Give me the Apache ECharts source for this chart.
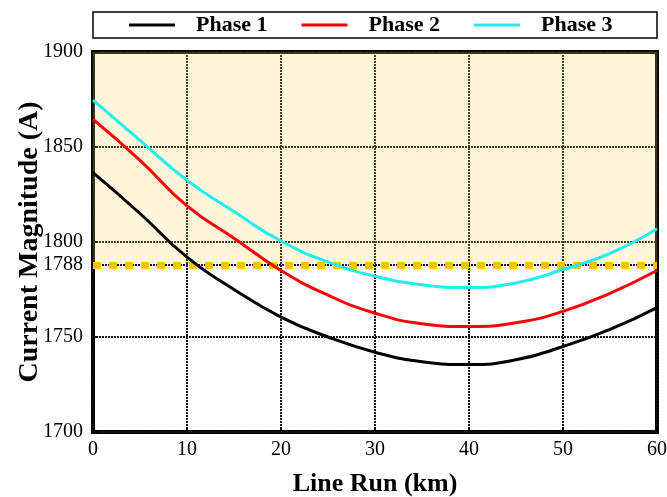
<!DOCTYPE html>
<html><head><meta charset="utf-8">
<script src="https://cdn.jsdelivr.net/npm/echarts@6/dist/echarts.min.js"></script>
<style>html,body{margin:0;padding:0;background:#fff}#c{width:667px;height:497px}</style>
</head><body><div id="c"></div>
<script>
const xValues = [0,5,10,15,20,25,30,35,40,45,50,55,60];
const phase1 = [1836.5,1815,1792,1775,1760.5,1750,1742,1737,1735.5,1738,1745,1754,1765.5];
const phase2 = [1864.5,1843,1819,1802,1785,1772,1762.5,1757,1755.5,1757.5,1763.5,1773,1785];
const phase3 = [1874.7,1853.5,1832.5,1816,1800.5,1789.5,1782,1777.5,1776,1778.5,1785.5,1794,1807];
const seriesNames = ['Phase 1','Phase 2','Phase 3'];
const threshold = 1788;
const yMin = 1700, yMax = 1900;

const pair = arr => xValues.map((x,i)=>[x,arr[i]]);
const font = '"Liberation Serif","Times New Roman",serif';
const chart = echarts.init(document.getElementById('c'));
const lineSeries = (name, data, color) => ({
  name, type:'line', data: pair(data), smooth:true, showSymbol:false, symbol:'none',
  lineStyle:{color, width:3}, itemStyle:{color}, z:5
});
chart.setOption({
  animation:false,
  grid:{left:93,right:10,top:52,bottom:65,show:true,borderColor:'#000',borderWidth:4,backgroundColor:'#fff',outerBoundsMode:'none',containLabel:false},
  graphic:[{type:'rect',shape:{x:93,y:12,width:564,height:26},style:{fill:'none',stroke:'#000',lineWidth:1.5}}],
  legend:{
    left:129, top:14, padding:0, itemWidth:46, itemHeight:3, itemGap:34, icon:'rect',
    textStyle:{fontFamily:font,fontWeight:'bold',fontSize:22,color:'#000',padding:[0,0,0,16]},
    data:seriesNames
  },
  xAxis:{
    type:'value', min:0, max:60, interval:10,
    name:'Line Run (km)', nameLocation:'middle', nameGap:39, nameMoveOverlap:false,
    nameTextStyle:{fontFamily:font,fontWeight:'bold',fontSize:26,color:'#000'},
    axisLine:{show:false},
    axisTick:{show:true,inside:true,length:5,lineStyle:{color:'#000',width:2}},
    axisLabel:{fontFamily:font,fontSize:20,color:'#000',margin:8,formatter:v=>String(v)},
    splitLine:{show:true,lineStyle:{color:'#111',width:2,type:[2,1]}}
  },
  yAxis:{
    type:'value', min:yMin, max:yMax, interval:50,
    name:'Current Magnitude (A)', nameLocation:'middle', nameGap:49, nameMoveOverlap:false,
    nameTextStyle:{fontFamily:font,fontWeight:'bold',fontSize:28,color:'#000'},
    axisLine:{show:false},
    axisTick:{show:true,inside:true,length:5,lineStyle:{color:'#000',width:2}},
    axisLabel:{fontFamily:font,fontSize:20,color:'#000',margin:10,formatter:v=>String(v)},
    splitLine:{show:true,lineStyle:{color:'#111',width:2,type:[2,1]}}
  },
  series:[
    {
      name:'_zone', type:'line', data:[], z:3, silent:true,
      markArea:{silent:true,itemStyle:{color:'rgba(255,215,95,0.22)'},data:[[{yAxis:threshold},{yAxis:yMax}]]},
      markLine:{silent:true,symbol:'none',animation:false,data:[
        {yAxis:threshold,lineStyle:{color:'#111',width:2,type:[2,1]},label:{show:false}},
        {yAxis:threshold,lineStyle:{color:'#ffc000',width:7,type:[8,8]},
         label:{show:true,position:'start',formatter:String(threshold),distance:10,fontFamily:font,fontSize:20,color:'#000'}}
      ]}
    },
    lineSeries(seriesNames[0], phase1, '#000000'),
    lineSeries(seriesNames[1], phase2, '#ff0000'),
    lineSeries(seriesNames[2], phase3, '#22eeee')
  ]
});
</script></body></html>
